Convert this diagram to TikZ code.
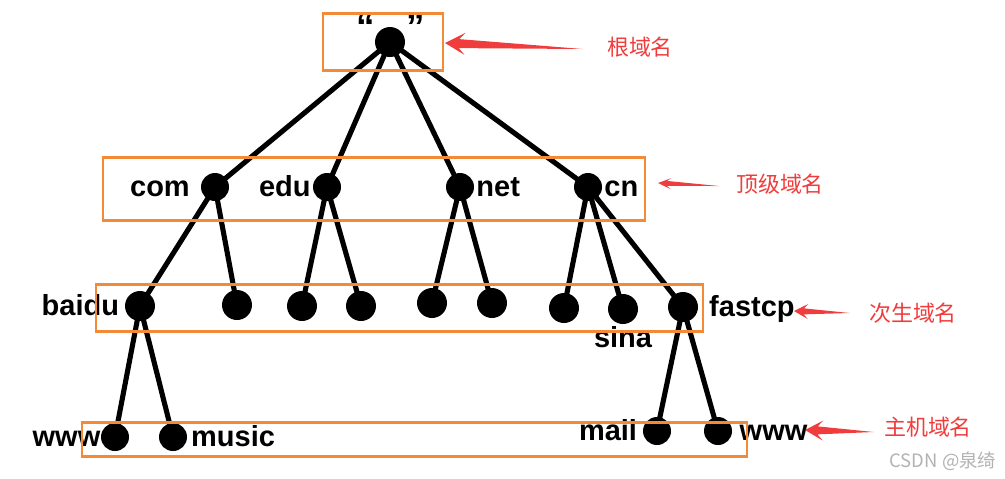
\documentclass[tikz,border=0pt]{standalone}
\usepackage{fontspec}
\setmainfont{Liberation Sans}
\newfontfamily\cjk{Noto Sans CJK SC}
\usetikzlibrary{calc,positioning}
\definecolor{boxorange}{HTML}{F28A38}
\definecolor{notered}{HTML}{F03C3C}

% tapered red pointer: tail, tip, head length, head half width, shaft half width
\newcommand{\callout}[5]{%
  \coordinate (pN) at ($(#2)!0.7*#3cm!(#1)$);
  \coordinate (pB) at ($(#2)!#3cm!(#1)$);
  \fill[notered] (#1) -- ($(pN)!#5cm!90:(#1)$) -- ($(pB)!#4cm!90:(#1)$) -- (#2)
    -- ($(pB)!#4cm!-90:(#1)$) -- ($(pN)!#5cm!-90:(#1)$) -- cycle;}

\tikzset{
  dot/.style={circle, fill=black, inner sep=0pt, minimum size=0.56cm},
  edge/.style={line width=2.9pt},
  lbl/.style={font=\bfseries\fontsize{16.5}{17}\selectfont, inner sep=0pt, text height=1ex, text depth=0pt, yshift=-2.8pt},
  level/.style={draw=boxorange, line width=1.7pt},
  tag/.style={font=\cjk\fontsize{12.5}{13}\selectfont, text=notered, inner sep=0pt},
}

\begin{document}
\begin{tikzpicture}[x=0.02cm, y=-0.02cm]
\useasboundingbox (0,0) rectangle (1005,478);

% root
\node[dot, minimum size=0.6cm] (root) at (390,42) {};
\node[font=\bfseries\fontsize{21}{21}\selectfont, anchor=base, inner sep=0pt] (quote) at (391,39) {“\hspace{0.85em}”};

% top level
\node[dot] (com) at (215,187) {};
\node[dot] (edu) at (327,187) {};
\node[dot] (net) at (460,187) {};
\node[dot] (cn) at (588,187) {};
\node[lbl, left=6pt of com] (comLbl) {com};
\node[lbl, left=1pt of edu] (eduLbl) {edu};
\node[lbl, right=1pt of net] (netLbl) {net};
\node[lbl, right=1pt of cn] (cnLbl) {cn};

% second level
\node[dot, minimum size=0.6cm] (baidu) at (140,306) {};
\node[dot, minimum size=0.6cm] (comB) at (237,305) {};
\node[dot, minimum size=0.6cm] (eduA) at (302,306) {};
\node[dot, minimum size=0.6cm] (eduB) at (361,306) {};
\node[dot, minimum size=0.6cm] (netA) at (432,303) {};
\node[dot, minimum size=0.6cm] (netB) at (492,303) {};
\node[dot, minimum size=0.6cm] (cnA) at (564,308) {};
\node[dot, minimum size=0.6cm] (sina) at (623,309) {};
\node[dot, minimum size=0.6cm] (fastcp) at (683,307) {};
\node[lbl, left=3pt of baidu] (baiduLbl) {baidu};
\node[lbl, below=5pt of sina] (sinaLbl) {sina};
\node[lbl, right=6pt of fastcp] (fastcpLbl) {fastcp};

% hosts
\node[dot] (www) at (115,437) {};
\node[dot] (music) at (173,437) {};
\node[dot] (mail) at (657,431) {};
\node[dot] (wwwB) at (718,431) {};
\node[lbl, left=0pt of www] (wwwLbl) {www};
\node[lbl, right=2pt of music] (musicLbl) {music};
\node[lbl, left=3pt of mail] (mailLbl) {mail};
\node[lbl, right=4pt of wwwB] (wwwBLbl) {www};

\foreach \t in {com,edu,net,cn}
  \draw[edge] (root.center) -- (\t.center);
\foreach \a/\b in {com/baidu, com/comB, edu/eduA, edu/eduB, net/netA, net/netB,
    cn/cnA, cn/sina, cn/fastcp, baidu/www, baidu/music, fastcp/mail, fastcp/wwwB}
  \draw[edge] (\a.center) -- (\b.center);

% level boxes
\draw[level] (323,13) rectangle (443,70);
\draw[level] (103,157) rectangle (645,220);
\draw[level] (96,284) rectangle (703,331);
\draw[level] (82,422) rectangle (747,456);

% tags
\node[tag] (rootTag) at (640,47) {根域名};
\node[tag] (topTag) at (780,184) {顶级域名};
\node[tag] (subTag) at (913,313) {次生域名};
\node[tag] (hostTag) at (928,427) {主机域名};
\coordinate (rootTail) at ($(rootTag.west)+(-24,2)$);
\coordinate (rootTip) at (445,43);
\coordinate (topTail) at ($(topTag.west)+(-17,2)$);
\coordinate (topTip) at (658,183);
\coordinate (subTail) at ($(subTag.west)+(-19,0)$);
\coordinate (subTip) at (794,311);
\coordinate (hostTail) at ($(hostTag.west)+(-10,5)$);
\coordinate (hostTip) at (805,430);
\callout{rootTail}{rootTip}{0.4}{0.22}{0.09}
\callout{topTail}{topTip}{0.26}{0.11}{0.05}
\callout{subTail}{subTip}{0.28}{0.15}{0.06}
\callout{hostTail}{hostTip}{0.36}{0.2}{0.08}

\node[font=\cjk\fontsize{10.5}{11}\selectfont, text=black!30] (mark) at (943,461) {CSDN @泉绮};
\end{tikzpicture}
\end{document}
